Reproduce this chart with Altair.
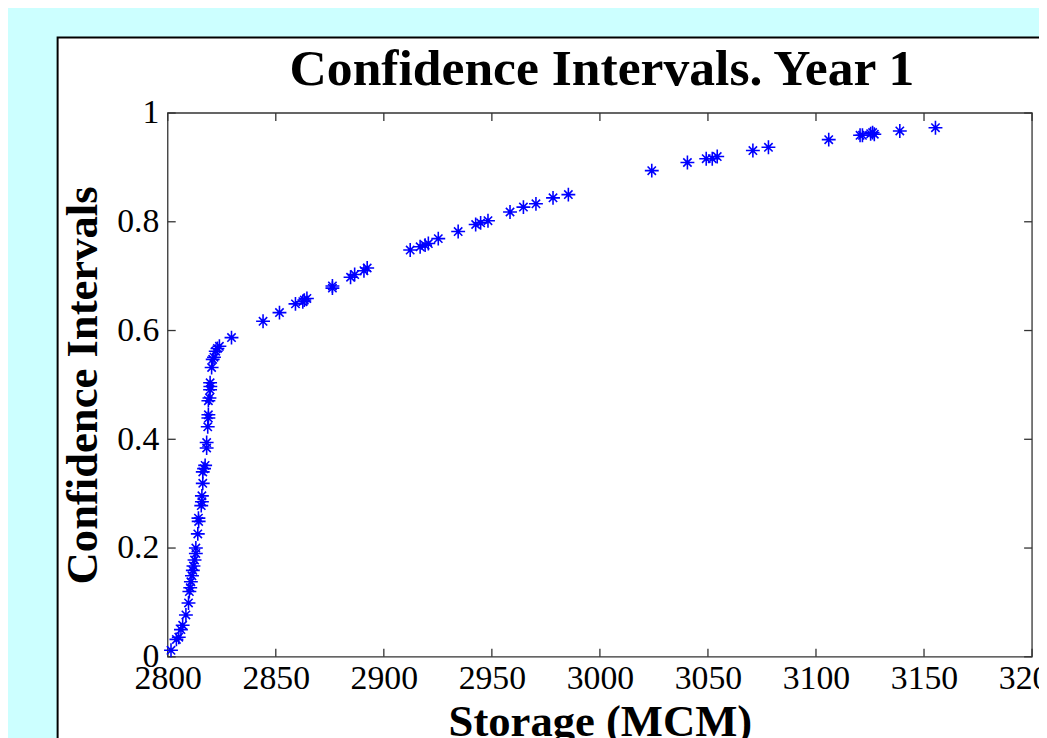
import altair as alt
import pandas as pd

# ---- data ----
storage = [
    2801.5, 2804.0, 2805.1, 2806.1, 2806.9, 2808.4, 2809.6, 2810.0, 2810.4, 2810.7,
    2811.2, 2811.6, 2811.9, 2812.4, 2813.0, 2813.0, 2813.9, 2814.3, 2814.2, 2815.5,
    2815.8, 2815.8, 2816.2, 2816.2, 2816.8, 2817.3, 2818.0, 2818.0, 2818.5, 2818.8,
    2818.8, 2818.8, 2819.3, 2819.6, 2819.7, 2819.6, 2820.3, 2820.8, 2821.4, 2822.2,
    2823.0, 2823.9, 2829.5,
    2844.1, 2851.7, 2859.1, 2862.5, 2863.2, 2864.4, 2876.2, 2876.2, 2884.6, 2886.5,
    2890.8, 2892.3, 2912.2, 2916.8, 2919.1, 2920.6, 2925.2, 2934.4, 2942.5, 2944.8,
    2948.2, 2958.4, 2964.6, 2970.4, 2978.3, 2985.4, 3024.0, 3040.5, 3049.2, 3052.0,
    3054.3, 3070.8, 3078.0, 3105.9, 3120.4, 3121.5, 3125.3, 3126.2, 3127.0, 3138.8,
    3155.3,
]
ci = [
    0.012, 0.032, 0.036, 0.050, 0.058, 0.077, 0.099, 0.120, 0.127, 0.138,
    0.149, 0.159, 0.167, 0.178, 0.190, 0.200, 0.226, 0.249, 0.255, 0.278,
    0.285, 0.296, 0.319, 0.340, 0.346, 0.352, 0.384, 0.394, 0.423, 0.439,
    0.445, 0.471, 0.476, 0.491, 0.497, 0.504, 0.532, 0.547, 0.551, 0.562,
    0.567, 0.571, 0.587,
    0.617, 0.633, 0.649, 0.653, 0.656, 0.659, 0.678, 0.682, 0.698, 0.703,
    0.710, 0.715, 0.748, 0.754, 0.757, 0.760, 0.769, 0.782, 0.795, 0.798,
    0.802, 0.818, 0.827, 0.833, 0.844, 0.850, 0.894, 0.909, 0.916, 0.916,
    0.920, 0.931, 0.937, 0.951, 0.959, 0.959, 0.962, 0.964, 0.961, 0.967,
    0.973,
]
x_ticks = [2800, 2850, 2900, 2950, 3000, 3050, 3100, 3150, 3200]
y_ticks = [0, 0.2, 0.4, 0.6, 0.8, 1]
TITLE = "Confidence Intervals. Year 1"
X_TITLE = "Storage (MCM)"
Y_TITLE = "Confidence Intervals"

W, H = 871, 548
FONT = "Liberation Serif"
AXIS_COLOR = "#333333"
TICK_LEN = 8

pts = pd.DataFrame({"storage": storage, "ci": ci})
one = pd.DataFrame({"t": [TITLE]})
xt = pd.DataFrame({"storage": x_ticks})
yt = pd.DataFrame({"ci": y_ticks})

xs = alt.Scale(domain=[2800, 3200], nice=False, zero=False)
ys = alt.Scale(domain=[0, 1], nice=False, zero=False)

x_axis = alt.Axis(
    values=x_ticks, format="d", title=X_TITLE,
    labelFont=FONT, labelFontSize=34, labelColor="black", labelPadding=5,
    labelFlush=False, labelOverlap=False, ticks=False, tickSize=0,
    domain=False, grid=False,
    titleFont=FONT, titleFontSize=45, titleFontWeight="bold", titleColor="black",
    titlePadding=4, zindex=1,
)
y_axis = alt.Axis(
    values=y_ticks, format="~g", title=Y_TITLE,
    labelFont=FONT, labelFontSize=34, labelColor="black", labelPadding=9,
    labelOverlap=False, ticks=False, tickSize=0, domain=False, grid=False,
    titleFont=FONT, titleFontSize=45, titleFontWeight="bold", titleColor="black",
    titleBaseline="alphabetic", titlePadding=20, zindex=1,
)
X = alt.X("storage:Q", scale=xs, axis=x_axis)
Y = alt.Y("ci:Q", scale=ys, axis=y_axis)

# white figure panel with black border (decoration)
panel = alt.Chart(one).mark_rect(fill="white", stroke="black", strokeWidth=2).encode(
    x=alt.value(-111), x2=alt.value(1100), y=alt.value(-76), y2=alt.value(900)
)

# axes box
frame = alt.Chart(one).mark_rect(fill="transparent", stroke=AXIS_COLOR, strokeWidth=1.3).encode(
    x=alt.value(0), x2=alt.value(W), y=alt.value(0), y2=alt.value(H)
)

# inward tick marks on all four sides
tick_style = dict(color=AXIS_COLOR, strokeWidth=1.3)
xb = alt.Chart(xt).mark_rule(**tick_style).encode(
    x=X, y=alt.value(H), y2=alt.value(H - TICK_LEN)
)
xtop = alt.Chart(xt).mark_rule(**tick_style).encode(
    x=X, y=alt.value(0), y2=alt.value(TICK_LEN)
)
yl = alt.Chart(yt).mark_rule(**tick_style).encode(
    y=Y, x=alt.value(0), x2=alt.value(TICK_LEN)
)
yr = alt.Chart(yt).mark_rule(**tick_style).encode(
    y=Y, x=alt.value(W - TICK_LEN), x2=alt.value(W)
)

star = "M-1,0L1,0M0,-1L0,1M-0.6,-0.6L0.6,0.6M-0.6,0.6L0.6,-0.6"
points = alt.Chart(pts).mark_point(
    shape=star, filled=False, color="#0000ff", size=196, strokeWidth=1.6, opacity=1
).encode(x=X, y=Y)

title = alt.Chart(one).mark_text(
    font=FONT, fontSize=52, fontWeight="bold", align="center", baseline="alphabetic", color="black"
).encode(x=alt.value(W / 2 + 2), y=alt.value(-28), text="t:N")

chart = alt.layer(panel, frame, xb, xtop, yl, yr, points, title).properties(
    width=W,
    height=H,
    background="#ccffff",
    padding={"left": 161, "top": 103, "right": 7, "bottom": 79},
    autosize=alt.AutoSizeParams(type="none"),
).configure_view(strokeWidth=0)

chart.save("out.html", embed_options={"renderer": "svg", "actions": False})
